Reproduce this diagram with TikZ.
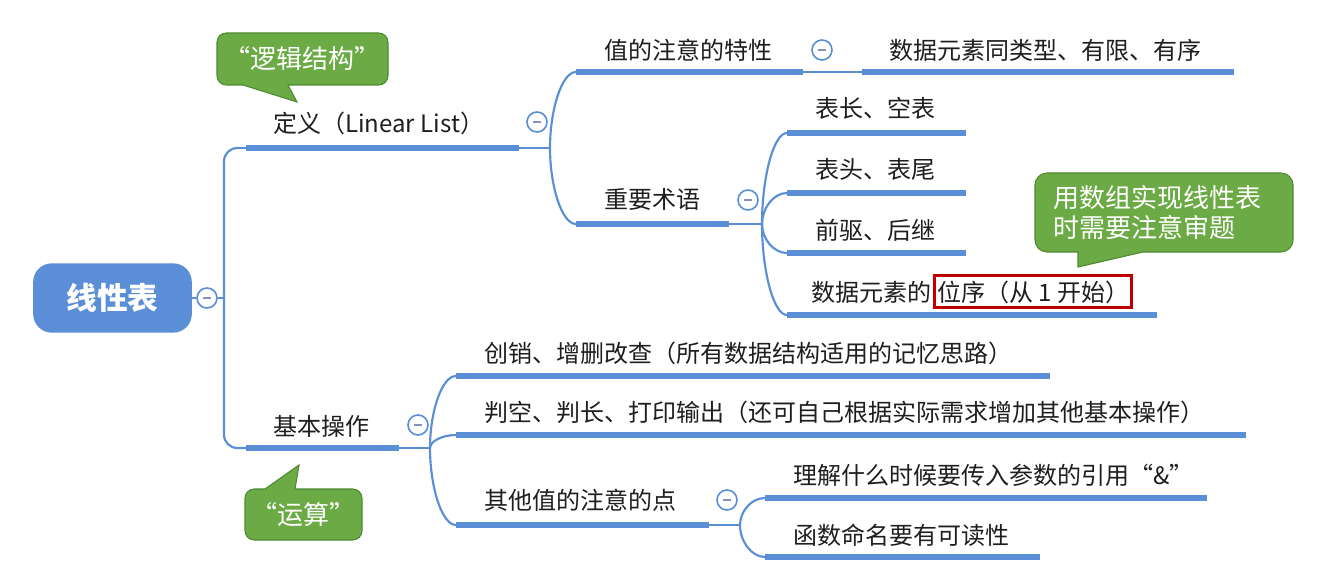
\documentclass[tikz,border=0pt]{standalone}
\usepackage{fontspec}
\setmainfont{Noto Sans CJK SC}
\definecolor{mBlue}{HTML}{5A8ED6}
\definecolor{mGreen}{HTML}{6BAA45}
\definecolor{mGreenD}{HTML}{4E8A2E}
\definecolor{mRed}{HTML}{C00000}
\definecolor{mInk}{HTML}{1E1E1E}
\definecolor{mMinus}{HTML}{8A90BC}
\usetikzlibrary{positioning, calc}

\begin{document}
\begin{tikzpicture}[x=0.75pt, y=-0.75pt,
  root/.style={fill=mBlue, rounded corners=14pt, minimum width=119pt,
               minimum height=52pt, text=white,
               font=\bfseries\fontsize{23}{26}\selectfont},
  bar/.style={mBlue, line width=4.2pt},
  link/.style={mBlue, line width=1.6pt},
  lbl/.style={anchor=base west, inner sep=0pt, text=mInk,
              font=\fontsize{18}{20}\selectfont},
  fold/.style={circle, draw=mBlue, line width=1.2pt, fill=white,
               minimum size=15pt, inner sep=0pt,
               path picture={\draw[mMinus, line width=1.3pt]
                 ([xshift=-3pt]path picture bounding box.center) --
                 ([xshift=3pt]path picture bounding box.center);}},
  note/.style={fill=mGreen, draw=mGreenD, line width=0.8pt},
  notetext/.style={text=white, align=left,
                   font=\fontsize{19.5}{22.5}\selectfont}]
  \useasboundingbox (0,0) rectangle (1342,581);

  % root and spine
  \node[root] (list) at (112.5,298) {线性表};
  \node[fold] (f0) at (207,298) {};
  \coordinate (hub0) at (224,298);
  \draw[link] (list) -- (f0);
  \draw[link] (f0) -- (hub0);

  % bar end points
  \coordinate (defL) at (246,148);   \coordinate (defR) at (519,148);
  \coordinate (hub1) at (550,148);
  \coordinate (featL) at (576,72);   \coordinate (featR) at (803,72);
  \coordinate (kindL) at (862,72);   \coordinate (kindR) at (1234,72);
  \coordinate (termL) at (576,224);  \coordinate (termR) at (729,224);
  \coordinate (hub12) at (762,224);
  \coordinate (lenL) at (787,133);   \coordinate (lenR) at (966,133);
  \coordinate (headL) at (787,193);  \coordinate (headR) at (966,193);
  \coordinate (predL) at (787,253);  \coordinate (predR) at (966,253);
  \coordinate (posL) at (787,315);   \coordinate (posR) at (1157,315);
  \coordinate (opsL) at (246,448);   \coordinate (opsR) at (399,448);
  \coordinate (hub2) at (430,448);
  \coordinate (crudL) at (456,376);  \coordinate (crudR) at (1050,376);
  \coordinate (chkL) at (456,435);   \coordinate (chkR) at (1246,435);
  \coordinate (miscL) at (456,525);  \coordinate (miscR) at (709,525);
  \coordinate (hub23) at (740,525);
  \coordinate (refL) at (765,498);   \coordinate (refR) at (1207,498);
  \coordinate (nameL) at (765,557);  \coordinate (nameR) at (1040,557);

  \draw[link, rounded corners=10pt] (hub0) |- (defL);
  \draw[link, rounded corners=10pt] (hub0) |- (opsL);

  % definition branch
  \draw[bar] (defL) -- (defR);
  \node[lbl] (def) at (273,133) {定义（Linear List）};
  \node[fold] (f1) at (537,122) {};
  \draw[link] (defR) -- (hub1);
  \foreach \c in {featL, termL}
    \draw[link] (hub1) .. controls ($(hub1)!0.5!(hub1 |- \c)$)
      and ($(\c)!0.55!(hub1 |- \c)$) .. (\c);

  \draw[bar] (featL) -- (featR);
  \node[lbl] (feat) at (604,60) {值的注意的特性};
  \node[fold] (f11) at (822,50) {};
  \draw[link] (featR) -- (kindL);
  \draw[bar] (kindL) -- (kindR);
  \node[lbl] (kind) at (889,60) {数据元素同类型、有限、有序};

  \draw[bar] (termL) -- (termR);
  \node[lbl] (term) at (604,209) {重要术语};
  \node[fold] (f12) at (748,200) {};
  \draw[link] (termR) -- (hub12);
  \foreach \c in {lenL, headL, predL, posL}
    \draw[link] (hub12) .. controls ($(hub12)!0.5!(hub12 |- \c)$)
      and ($(\c)!0.55!(hub12 |- \c)$) .. (\c);
  \draw[bar] (lenL) -- (lenR);
  \draw[bar] (headL) -- (headR);
  \draw[bar] (predL) -- (predR);
  \draw[bar] (posL) -- (posR);
  \node[lbl] (len) at (815,118) {表长、空表};
  \node[lbl] (head) at (815,179) {表头、表尾};
  \node[lbl] (pred) at (815,239) {前驱、后继};
  \node[lbl] (pos) at (811,301) {数据元素的};
  \node[draw=mRed, line width=2.3pt, text=mInk, inner xsep=2pt,
        minimum height=24pt, anchor=base west, font=\fontsize{18}{20}\selectfont]
    (seq) at ([xshift=1pt]pos.base east) {位序（从 1 开始）};

  % operations branch
  \draw[bar] (opsL) -- (opsR);
  \node[lbl] (ops) at (273,435) {基本操作};
  \node[fold] (f2) at (418,425) {};
  \draw[link] (opsR) -- (hub2);
  \foreach \c in {crudL, chkL, miscL}
    \draw[link] (hub2) .. controls ($(hub2)!0.5!(hub2 |- \c)$)
      and ($(\c)!0.55!(hub2 |- \c)$) .. (\c);
  \draw[bar] (crudL) -- (crudR);
  \draw[bar] (chkL) -- (chkR);
  \draw[bar] (miscL) -- (miscR);
  \node[lbl] (crud) at (484,362) {创销、增删改查（所有数据结构适用的记忆思路）};
  \node[lbl] (chk) at (484,421) {判空、判长、打印输出（还可自己根据实际需求增加其他基本操作）};
  \node[lbl] (misc) at (484,509) {其他值的注意的点};
  \node[fold] (f23) at (727,500) {};
  \draw[link] (miscR) -- (hub23);
  \foreach \c in {refL, nameL}
    \draw[link] (hub23) .. controls ($(hub23)!0.5!(hub23 |- \c)$)
      and ($(\c)!0.55!(hub23 |- \c)$) .. (\c);
  \draw[bar] (refL) -- (refR);
  \draw[bar] (nameL) -- (nameR);
  \node[lbl] (ref) at (793,484) {理解什么时候要传入参数的引用“\&”};
  \node[lbl] (name) at (793,544) {函数命名要有可读性};

  % callouts
  \draw[note] (243,85) [rounded corners=7pt] -- (217,85) -- (217,33)
    -- (388,33) -- (388,85) [sharp corners] -- (288,85) -- (297,102) -- cycle;
  \node[notetext] (logic) at (302.5,59) {“逻辑结构”};

  \draw[note] (295,489) [rounded corners=7pt] -- (362,489) -- (362,540)
    -- (245,540) -- (245,489) [sharp corners] -- (265,489) -- (299,465) -- cycle;
  \node[notetext] (calc) at (303.5,515) {“运算”};

  \draw[note] (1143,252) [rounded corners=9pt] -- (1293,252) -- (1293,173)
    -- (1035,173) -- (1035,252) [sharp corners] -- (1078,252) -- (1078,267) -- cycle;
  \node[notetext, anchor=west] (arr) at (1049,213) {用数组实现线性表\\时需要注意审题};
\end{tikzpicture}
\end{document}
